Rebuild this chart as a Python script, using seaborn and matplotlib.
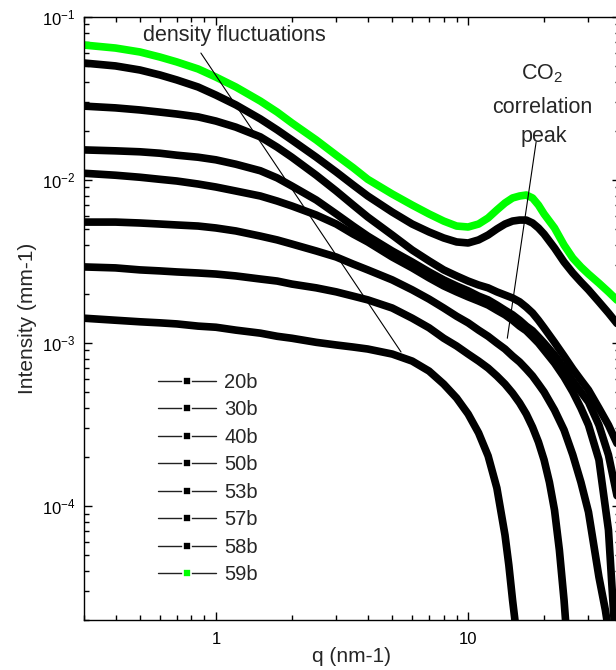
import numpy as np
import pandas as pd
import matplotlib
matplotlib.use("Agg")
import matplotlib.pyplot as plt
import seaborn as sns
from matplotlib.lines import Line2D
from matplotlib.ticker import FuncFormatter, NullFormatter, LogLocator

# q grid (nm-1) used for the upper curves
q_full = [0.3, 0.4, 0.5, 0.6, 0.7, 0.85, 1, 1.2, 1.5, 1.75, 2, 2.5, 3, 3.5, 4, 5, 6, 7, 8, 9,
          10, 11, 12, 13, 14, 15, 16, 17, 18, 19, 20, 22, 24, 26, 28, 30, 33, 36, 40]

# intensities (mm-1)
i_59b = [0.0673, 0.0645, 0.0610, 0.0568, 0.0530, 0.0480, 0.0428, 0.0372, 0.0305, 0.0261,
         0.0224, 0.0176, 0.0142, 0.0119, 0.0101, 0.00821, 0.00702, 0.00619, 0.00560, 0.00522,
         0.00515, 0.00537, 0.00585, 0.00655, 0.00723, 0.00776, 0.00798, 0.00809, 0.00776, 0.00702,
         0.00619, 0.00508, 0.00399, 0.00332, 0.00293, 0.00265, 0.00233, 0.00206, 0.00176]
i_58b = [0.0522, 0.0501, 0.0473, 0.0441, 0.0411, 0.0372, 0.0332, 0.0289, 0.0237, 0.0203,
         0.0176, 0.0138, 0.0112, 0.00932, 0.00798, 0.00636, 0.00537, 0.00480, 0.00441, 0.00417,
         0.00411, 0.00429, 0.00460, 0.00501, 0.00537, 0.00560, 0.00568, 0.00568, 0.00545, 0.00508,
         0.00466, 0.00383, 0.00314, 0.00269, 0.00237, 0.00212, 0.00179, 0.00153, 0.00125]
i_57b = [0.0284, 0.0277, 0.0269, 0.0261, 0.0254, 0.0244, 0.0230, 0.0211, 0.0184, 0.0159,
         0.0138, 0.0107, 0.00856, 0.00702, 0.00593, 0.00460, 0.00372, 0.00319, 0.00281, 0.00258,
         0.00240, 0.00227, 0.00218, 0.00206, 0.00197, 0.00189, 0.00179, 0.00166, 0.00153, 0.00138,
         0.00124, 0.00101, 0.000832, 0.000693, 0.000593, 0.000515, 0.000399, 0.000314, 0.000221]
i_53b = [0.0153, 0.0151, 0.0149, 0.0146, 0.0142, 0.0138, 0.0133, 0.0125, 0.0114, 0.0103,
         0.00919, 0.00754, 0.00619, 0.00522, 0.00453, 0.00367, 0.00314, 0.00273, 0.00244, 0.00224,
         0.00209, 0.00194, 0.00184, 0.00171, 0.00159, 0.00149, 0.00138, 0.00127, 0.00119, 0.00109,
         0.00100, 0.000844, 0.000702, 0.000585, 0.000501, 0.000435, 0.000314, 0.000206, 0.0000945]

q_50b = [0.3, 0.4, 0.5, 0.6, 0.7, 0.85, 1, 1.2, 1.5, 1.75, 2, 2.5, 3, 3.5, 4, 5, 6, 7, 8, 9,
         10, 11, 12, 13, 14, 15, 16, 17, 18, 19, 20, 22, 24, 26, 28, 30, 33, 36, 38]
i_50b = [0.0110, 0.0107, 0.0104, 0.0101, 0.00986, 0.00945, 0.00906, 0.00856, 0.00798, 0.00743,
         0.00693, 0.00610, 0.00537, 0.00466, 0.00417, 0.00337, 0.00289, 0.00251, 0.00224, 0.00206,
         0.00192, 0.00181, 0.00171, 0.00159, 0.00149, 0.00138, 0.00127, 0.00119, 0.00109, 0.00100,
         0.000906, 0.000754, 0.000619, 0.000501, 0.000399, 0.000314, 0.000192, 0.0000713, 0.0000186]

q_40b = [0.3, 0.4, 0.5, 0.6, 0.7, 0.85, 1, 1.2, 1.5, 1.75, 2, 2.5, 3, 3.5, 4, 5, 6, 7, 8, 9,
         10, 11, 12, 13, 14, 15, 16, 17, 18, 19, 20, 22, 24, 26, 28, 30, 33, 35, 36]
i_40b = [0.00552, 0.00552, 0.00545, 0.00537, 0.00530, 0.00522, 0.00508, 0.00487, 0.00453, 0.00429,
         0.00405, 0.00367, 0.00337, 0.00305, 0.00281, 0.00244, 0.00212, 0.00186, 0.00164, 0.00146,
         0.00133, 0.00120, 0.00110, 0.00100, 0.000919, 0.000832, 0.000765, 0.000693, 0.000628, 0.000560,
         0.000501, 0.000388, 0.000293, 0.000206, 0.000140, 0.0000919, 0.0000367, 0.0000230, 0.0000173]

q_30b = [0.3, 0.4, 0.5, 0.6, 0.7, 0.85, 1, 1.2, 1.5, 1.75, 2, 2.5, 3, 3.5, 4, 5, 6, 7, 8, 9,
         10, 11, 12, 13, 14, 15, 16, 17, 18, 19, 20, 21, 22, 23, 24, 24.5]
i_30b = [0.00293, 0.00289, 0.00281, 0.00277, 0.00273, 0.00269, 0.00265, 0.00258, 0.00247, 0.00240,
         0.00230, 0.00218, 0.00206, 0.00194, 0.00184, 0.00164, 0.00142, 0.00124, 0.00107, 0.000959,
         0.000856, 0.000775, 0.000702, 0.000628, 0.000560, 0.000493, 0.000429, 0.000367, 0.000305, 0.000247,
         0.000192, 0.000140, 0.0000945, 0.0000537, 0.0000265, 0.0000173]

q_20b = [0.3, 0.4, 0.5, 0.6, 0.7, 0.85, 1, 1.2, 1.5, 1.75, 2, 2.5, 3, 3.5, 4, 5, 6, 7, 8, 9,
         10, 11, 12, 13, 14, 14.5, 15, 15.5]
i_20b = [0.00142, 0.00138, 0.00135, 0.00133, 0.00131, 0.00127, 0.00125, 0.00120, 0.00115, 0.00110,
         0.00107, 0.00101, 0.000973, 0.000945, 0.000919, 0.000856, 0.000775, 0.000673, 0.000560, 0.000460,
         0.000367, 0.000281, 0.000203, 0.000129, 0.0000664, 0.0000434, 0.0000265, 0.0000173]

samples = ["20b", "30b", "40b", "50b", "53b", "57b", "58b", "59b"]
colors = {s: "black" for s in samples}
colors["59b"] = "#00ff00"

series = {
    "20b": (q_20b, i_20b),
    "30b": (q_30b, i_30b),
    "40b": (q_40b, i_40b),
    "50b": (q_50b, i_50b),
    "53b": (q_full, i_53b),
    "57b": (q_full, i_57b),
    "58b": (q_full, i_58b),
    "59b": (q_full, i_59b),
}
df = pd.concat([pd.DataFrame({"q": q, "I": i, "sample": s}) for s, (q, i) in series.items()])

sns.set_style("ticks")
plt.rcParams["font.family"] = ["Liberation Sans", "DejaVu Sans"]
plt.rcParams["mathtext.fontset"] = "custom"
plt.rcParams["mathtext.rm"] = "Liberation Sans"
plt.rcParams["mathtext.default"] = "regular"
plt.rcParams["axes.unicode_minus"] = False

fig = plt.figure(figsize=(6.16, 6.7), dpi=100)
ax = fig.add_axes([84 / 616, 50 / 670, 536 / 616, 603 / 670])
ax.set(xscale="log", yscale="log")

sns.lineplot(data=df, x="q", y="I", hue="sample", hue_order=samples, palette=colors,
             lw=5.5, estimator=None, sort=False, legend=False, ax=ax)
for line in ax.get_lines():
    line.set_solid_joinstyle("round")

ax.set_xlim(0.3, 40)
ax.set_ylim(2e-5, 1e-1)
ax.set_xlabel("q (nm-1)", fontsize=15, labelpad=0)
ax.set_ylabel("Intensity (mm-1)", fontsize=15, labelpad=4)

for s in ax.spines.values():
    s.set_linewidth(1.0)
    s.set_color("black")
ax.tick_params(which="both", direction="in", top=True, right=True, width=1, colors="black")
ax.tick_params(which="major", length=6, labelsize=12)
ax.tick_params(axis="y", which="major", pad=6)
ax.tick_params(axis="x", which="major", pad=9)
ax.tick_params(which="minor", length=3.5)
ax.yaxis.set_minor_locator(LogLocator(base=10, subs=np.arange(2, 10)))
ax.xaxis.set_minor_locator(LogLocator(base=10, subs=np.arange(2, 10)))
ax.xaxis.set_major_formatter(FuncFormatter(lambda v, _: f"{v:g}"))
ax.xaxis.set_minor_formatter(NullFormatter())
ax.yaxis.set_minor_formatter(NullFormatter())

# annotations
ax.text(1.18, 0.0765, "density fluctuations", fontsize=15.5, ha="center", va="center")
ax.annotate("", xy=(5.42, 0.000881), xytext=(0.872, 0.0601),
            arrowprops=dict(arrowstyle="-", lw=0.8, color="black", shrinkA=0, shrinkB=0))
ax.text(19.7, 0.0447, "CO$_2$", fontsize=15.5, ha="center", va="center")
ax.text(19.7, 0.0277, "correlation", fontsize=15.5, ha="center", va="center")
ax.text(20.0, 0.0184, "peak", fontsize=15.5, ha="center", va="center")
ax.annotate("", xy=(14.3, 0.00107), xytext=(18.6, 0.0171),
            arrowprops=dict(arrowstyle="-", lw=0.8, color="black", shrinkA=0, shrinkB=0))

# legend: thin line, small square with a white gap around it
handles = [Line2D([], [], color="#222222", lw=1, marker="s", markersize=5.5,
                  markerfacecolor=colors[s], markeredgecolor="white", markeredgewidth=1.2)
           for s in samples]
ax.legend(handles, samples, loc="upper left", bbox_to_anchor=(158 / 616, 1 - 373 / 670),
          bbox_transform=fig.transFigure, frameon=False, fontsize=14.5, handlelength=2.9,
          handletextpad=0.4, labelspacing=0.42, borderpad=0, borderaxespad=0)

fig.savefig("out.png", dpi=100)
